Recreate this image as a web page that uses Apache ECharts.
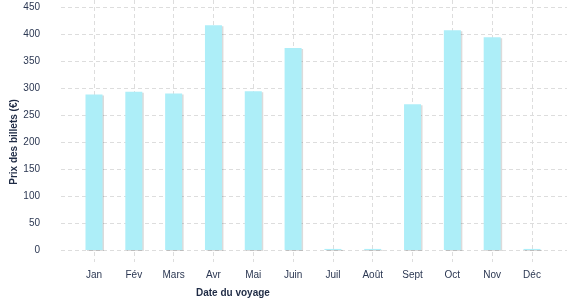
<!DOCTYPE html>
<html>
<head>
<meta charset="utf-8">
<script src="https://cdn.jsdelivr.net/npm/echarts@6/dist/echarts.min.js"></script>
<style>
html,body{margin:0;padding:0;background:#fff;}
#chart{width:577px;height:300px;}
</style>
</head>
<body>
<div id="chart"></div>
<script>
const months = ['Jan','Fév','Mars','Avr','Mai','Juin','Juil','Août','Sept','Oct','Nov','Déc'];
const prices = [288, 293, 290, 416, 294, 374, 2, 2, 270, 407, 394, 2];
const yTicks = [0, 450, 50];
const xTitle = 'Date du voyage';
const yTitle = 'Prix des billets (€)';

const font = 'Liberation Sans, Arial, sans-serif';
const dash = {color:'#dddddd', type:[4,3], width:1};
const chart = echarts.init(document.getElementById('chart'));
chart.setOption({
  animation:false,
  grid:[
    {left:94, width:438, top:0, height:262},
    {left:61, right:10, top:7, height:243}
  ],
  xAxis:[
    {gridIndex:0, type:'category', data:months, boundaryGap:false,
     axisLine:{show:false}, axisTick:{show:false},
     splitLine:{show:true, lineStyle:dash},
     axisLabel:{color:'#2b3752', fontFamily:font, fontSize:10, margin:8}},
    {gridIndex:1, type:'value', show:false, min:0, max:1}
  ],
  yAxis:[
    {gridIndex:0, type:'value', min:-22.22, max:462.96, show:false, splitLine:{show:false}},
    {gridIndex:1, type:'value', min:yTicks[0], max:yTicks[1], interval:yTicks[2],
     axisLine:{show:false}, axisTick:{show:false},
     splitLine:{show:true, lineStyle:dash},
     axisLabel:{color:'#2b3752', fontFamily:font, fontSize:10, margin:21}}
  ],
  series:[{
    type:'bar', xAxisIndex:0, yAxisIndex:0, data:prices, barWidth:17,
    itemStyle:{color:'#adeef8', shadowColor:'rgba(0,0,0,0.14)', shadowOffsetX:1.5, shadowOffsetY:1, shadowBlur:0}
  }],
  graphic:[
    {type:'text', left:196, top:288, style:{text:xTitle, fill:'#1f2b45', font:'bold 10px '+font}},
    {type:'text', x:14, y:142, rotation:Math.PI/2, style:{text:yTitle, fill:'#1f2b45', font:'bold 10px '+font, align:'center', verticalAlign:'middle'}}
  ]
});
</script>
</body>
</html>
